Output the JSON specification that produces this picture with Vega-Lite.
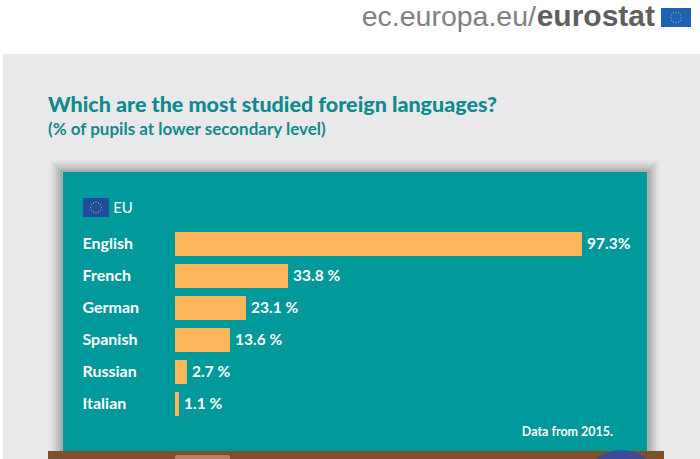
{
"$schema":"https://vega.github.io/schema/vega-lite/v6.json",
"width":700,"height":459,"padding":0,"autosize":"none","background":"#ffffff",
"title":{"text":"Which are the most studied foreign languages?","subtitle":"(% of pupils at lower secondary level)","anchor":"start","frame":"group","dx":48,"offset":-138,"font":"Lato","fontSize":21.5,"fontWeight":900,"color":"#108A8E","subtitleFont":"Lato","subtitleFontSize":17,"subtitleFontWeight":700,"subtitleColor":"#108A8E","subtitlePadding":6},
"view":{"stroke":null},
"data":{"values":[{"language":"English","value":97.3,"label":"97.3%"},{"language":"French","value":33.8,"label":"33.8 %"},{"language":"German","value":23.1,"label":"23.1 %"},{"language":"Spanish","value":13.6,"label":"13.6 %"},{"language":"Russian","value":2.7,"label":"2.7 %"},{"language":"Italian","value":1.1,"label":"1.1 %"}]},
"layer":[
{"data":{"values":[{}]},
 "encoding":{"x":{"type":"quantitative","scale":{"domain":[0,700],"range":[0,700]},"axis":null},"y":{"type":"quantitative","scale":{"domain":[0,459],"range":[0,459]},"axis":null}},
 "layer":[
 {"mark":{"type":"rect","fill":"#E9E9EB"},"encoding":{"x":{"datum":3},"x2":{"datum":700},"y":{"datum":54},"y2":{"datum":459}}},
 {"mark":{"type":"rect","fill":"#555555","opacity":0.03},"encoding":{"x":{"datum":49},"x2":{"datum":661},"y":{"datum":160},"y2":{"datum":451}}},
 {"mark":{"type":"rect","fill":"#555555","opacity":0.05},"encoding":{"x":{"datum":52},"x2":{"datum":658},"y":{"datum":162},"y2":{"datum":451}}},
 {"mark":{"type":"rect","fill":"#555555","opacity":0.07},"encoding":{"x":{"datum":54},"x2":{"datum":656},"y":{"datum":164},"y2":{"datum":451}}},
 {"mark":{"type":"rect","fill":"#555555","opacity":0.09},"encoding":{"x":{"datum":56},"x2":{"datum":654},"y":{"datum":166},"y2":{"datum":451}}},
 {"mark":{"type":"rect","fill":"#555555","opacity":0.11},"encoding":{"x":{"datum":58},"x2":{"datum":652},"y":{"datum":168},"y2":{"datum":451}}},
 {"mark":{"type":"rect","fill":"#555555","opacity":0.13},"encoding":{"x":{"datum":60},"x2":{"datum":650},"y":{"datum":170},"y2":{"datum":451}}},
 {"mark":{"type":"rect","fill":"#00999B"},"encoding":{"x":{"datum":63},"x2":{"datum":647},"y":{"datum":172},"y2":{"datum":451}}},
 {"mark":{"type":"rect","fill":"#7C5028"},"encoding":{"x":{"datum":48},"x2":{"datum":664},"y":{"datum":451},"y2":{"datum":459}}},
 {"mark":{"type":"rect","fill":"#B08560","cornerRadiusTopLeft":10,"cornerRadiusTopRight":10},"encoding":{"x":{"datum":175},"x2":{"datum":230},"y":{"datum":455},"y2":{"datum":459}}},
 {"mark":{"type":"point","filled":true,"shape":"circle","fill":"#3D4A96","opacity":1,"size":6400},"encoding":{"x":{"datum":621},"y":{"datum":490}}},
 {"mark":{"type":"rect","fill":"#1F4C9E"},"encoding":{"x":{"datum":83},"x2":{"datum":109},"y":{"datum":198},"y2":{"datum":217}}},
 {"mark":{"type":"rect","fill":"#1F62B5"},"encoding":{"x":{"datum":661},"x2":{"datum":691},"y":{"datum":8},"y2":{"datum":27}}},
 {"mark":{"type":"point","filled":true,"fill":"#D8C84A","opacity":0.9,"size":225,"shape":"M0 -.79L.09 -.7 0 -.61 -.09 -.7ZM.35 -.696L.44 -.606 .35 -.516 .26 -.606ZM.606 -.44L.696 -.35 .606 -.26 .516 -.35ZM.7 -.09L.79 0 .7 .09 .61 0ZM.606 .26L.696 .35 .606 .44 .516 .35ZM.35 .516L.44 .606 .35 .696 .26 .606ZM0 .61L.09 .7 0 .79 -.09 .7ZM-.35 .516L-.26 .606 -.35 .696 -.44 .606ZM-.606 .26L-.516 .35 -.606 .44 -.696 .35ZM-.7 -.09L-.61 0 -.7 .09 -.79 0ZM-.606 -.44L-.516 -.35 -.606 -.26 -.696 -.35ZM-.35 -.696L-.26 -.606 -.35 -.516 -.44 -.606Z"},"encoding":{"x":{"datum":96},"y":{"datum":207.5}}},
 {"mark":{"type":"point","filled":true,"fill":"#D8C84A","opacity":0.9,"size":225,"shape":"M0 -.79L.09 -.7 0 -.61 -.09 -.7ZM.35 -.696L.44 -.606 .35 -.516 .26 -.606ZM.606 -.44L.696 -.35 .606 -.26 .516 -.35ZM.7 -.09L.79 0 .7 .09 .61 0ZM.606 .26L.696 .35 .606 .44 .516 .35ZM.35 .516L.44 .606 .35 .696 .26 .606ZM0 .61L.09 .7 0 .79 -.09 .7ZM-.35 .516L-.26 .606 -.35 .696 -.44 .606ZM-.606 .26L-.516 .35 -.606 .44 -.696 .35ZM-.7 -.09L-.61 0 -.7 .09 -.79 0ZM-.606 -.44L-.516 -.35 -.606 -.26 -.696 -.35ZM-.35 -.696L-.26 -.606 -.35 -.516 -.44 -.606Z"},"encoding":{"x":{"datum":676},"y":{"datum":17.5}}},
 {"mark":{"type":"text","text":"ec.europa.eu/","font":"Liberation Sans","fontSize":28.5,"fill":"#808080","align":"right","baseline":"alphabetic"},"encoding":{"x":{"datum":536},"y":{"datum":26}}},
 {"mark":{"type":"text","text":"eurostat","font":"Liberation Sans","fontWeight":700,"fontSize":30,"fill":"#5F5F5F","align":"right","baseline":"alphabetic"},"encoding":{"x":{"datum":655},"y":{"datum":26}}}
 ]},
{"encoding":{"x":{"field":"value","type":"quantitative","scale":{"domain":[0,1.1,2.7,13.6,23.1,33.8,97.3,140],"range":[175,179,187,230,246,288,582,780]},"axis":null},"y":{"field":"language","type":"nominal","sort":null,"scale":{"domain":["EU","English","French","German","Spanish","Russian","Italian","Note"],"range":[196,452],"paddingInner":0.25,"paddingOuter":0.125},"axis":{"values":["English","French","German","Spanish","Russian","Italian"],"title":null,"orient":"left","domain":false,"ticks":false,"grid":false,"zindex":1,"labelAlign":"left","labelPadding":-82,"labelFont":"Lato","labelFontWeight":700,"labelFontSize":16,"labelColor":"#ffffff"}}},
 "layer":[
 {"mark":{"type":"bar","fill":"#FBB659"}},
 {"mark":{"type":"text","align":"left","dx":5,"font":"Lato","fontWeight":700,"fontSize":15.5,"fill":"#ffffff"},"encoding":{"text":{"field":"label"}}},
 {"data":{"values":[{"language":"EU","t":"EU","value":0}]},"mark":{"type":"text","align":"left","dy":-4,"font":"Lato","fontSize":15,"fill":"#ffffff"},"encoding":{"x":{"datum":-17},"text":{"field":"t"}}},
 {"data":{"values":[{"language":"Note","t":"Data from 2015.","value":0}]},"mark":{"type":"text","align":"right","dy":-4,"font":"Lato","fontWeight":700,"fontSize":12.5,"fill":"#ffffff"},"encoding":{"x":{"datum":104},"text":{"field":"t"}}}
 ]}
],
"resolve":{"scale":{"x":"independent","y":"independent"}}
}
